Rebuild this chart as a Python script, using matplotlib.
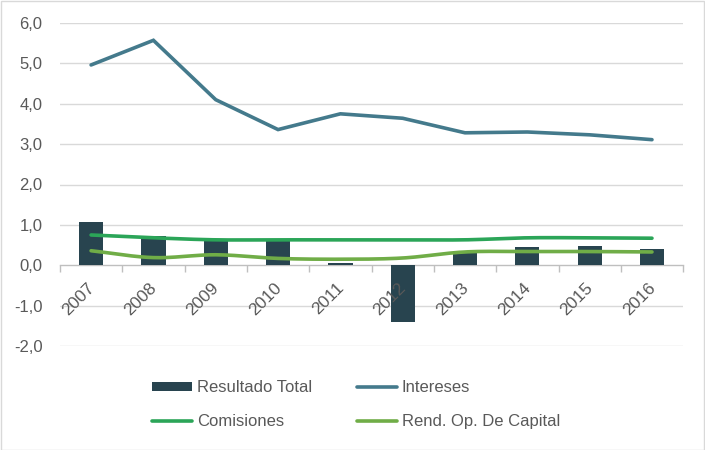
import numpy as np
import matplotlib
matplotlib.use("Agg")
import matplotlib.pyplot as plt
import matplotlib.transforms as mtransforms
from matplotlib.patches import Patch, Rectangle
from matplotlib.lines import Line2D
from matplotlib.ticker import FuncFormatter, FixedLocator

plt.rcParams['font.family'] = ['Liberation Sans', 'DejaVu Sans']

years = ['2007', '2008', '2009', '2010', '2011', '2012', '2013', '2014', '2015', '2016']
resultado_total = [1.07, 0.72, 0.66, 0.62, 0.05, -1.41, 0.36, 0.45, 0.47, 0.40]
intereses = [4.96, 5.57, 4.10, 3.36, 3.75, 3.64, 3.28, 3.30, 3.23, 3.11]
comisiones = [0.75, 0.68, 0.63, 0.63, 0.63, 0.63, 0.63, 0.68, 0.68, 0.67]
rend_capital = [0.36, 0.19, 0.26, 0.17, 0.15, 0.18, 0.33, 0.34, 0.34, 0.33]

C_BAR = '#28444f'
C_INT = '#447a8c'
C_COM = '#2ba558'
C_REND = '#70ad47'
C_TXT = '#595959'
C_GRID = '#d9d9d9'


def smooth(x, y, n=20):
    x = np.asarray(x, float)
    y = np.asarray(y, float)
    px = np.concatenate([[2 * x[0] - x[1]], x, [2 * x[-1] - x[-2]]])
    py = np.concatenate([[2 * y[0] - y[1]], y, [2 * y[-1] - y[-2]]])
    xs, ys = [], []
    t = np.linspace(0, 1, n, endpoint=False)

    def cr(a0, a1, a2, a3):
        return 0.5 * ((2 * a1) + (-a0 + a2) * t + (2 * a0 - 5 * a1 + 4 * a2 - a3) * t ** 2
                      + (-a0 + 3 * a1 - 3 * a2 + a3) * t ** 3)
    for i in range(1, len(px) - 2):
        xs.append(cr(px[i - 1], px[i], px[i + 1], px[i + 2]))
        ys.append(cr(py[i - 1], py[i], py[i + 1], py[i + 2]))
    xs.append([x[-1]])
    ys.append([y[-1]])
    return np.concatenate(xs), np.concatenate(ys)


fig = plt.figure(figsize=(7.05, 4.5), dpi=100)
ax = fig.add_axes([0.085, 0.231, 0.884, 0.718])

x = np.arange(len(years))
yticks = np.arange(-2, 6.01, 1)
for yv in yticks:
    if yv != 0:
        ax.axhline(yv, color=C_GRID, lw=1, zorder=0.5)

ax.bar(x, resultado_total, width=0.39, color=C_BAR, zorder=2)
ax.plot(x, intereses, color=C_INT, lw=2.6, solid_capstyle='round', solid_joinstyle='miter', zorder=3)
sx, sy = smooth(x, comisiones)
ax.plot(sx, sy, color=C_COM, lw=2.6, solid_capstyle='round', zorder=3)
sx, sy = smooth(x, rend_capital)
ax.plot(sx, sy, color=C_REND, lw=2.6, solid_capstyle='round', zorder=3)

ax.set_xlim(-0.5, len(years) - 0.5)
ax.set_ylim(-2, 6)
ax.set_yticks(yticks)
ax.yaxis.set_major_formatter(FuncFormatter(lambda v, p: f"{v:.1f}".replace('.', ',')))
ax.set_axisbelow(False)

for s in ['top', 'right', 'left']:
    ax.spines[s].set_visible(False)
ax.spines['bottom'].set_position(('data', 0))
ax.spines['bottom'].set_color('#bfbfbf')
ax.spines['bottom'].set_linewidth(1)
ax.spines['bottom'].set_zorder(1)

ax.set_xticks(x)
ax.set_xticklabels(years, rotation=45, ha='right', va='center', rotation_mode='anchor',
                   fontsize=12.5, color=C_TXT)
ax.tick_params(axis='x', which='major', length=0, pad=14.5)
ax.xaxis.set_minor_locator(FixedLocator(np.arange(-0.5, len(years), 1)))
ax.tick_params(axis='x', which='minor', length=5, color='#bfbfbf', width=1)
offset = mtransforms.ScaledTranslation(1 / 100, 0, fig.dpi_scale_trans)
for lbl in ax.get_xticklabels():
    lbl.set_transform(lbl.get_transform() + offset)
ax.xaxis.set_zorder(4)

ax.tick_params(axis='y', length=0, labelsize=12, labelcolor=C_TXT, pad=12.5)

h_bar = Patch(facecolor=C_BAR, edgecolor='none')
h_int = Line2D([0], [0], color=C_INT, lw=2.6, solid_capstyle='round')
h_com = Line2D([0], [0], color=C_COM, lw=2.6, solid_capstyle='round')
h_rend = Line2D([0], [0], color=C_REND, lw=2.6, solid_capstyle='round')
handles = [h_bar, h_com, h_int, h_rend]
labels = ['Resultado Total', 'Comisiones', 'Intereses', 'Rend. Op. De Capital']
fig.legend(handles, labels, ncol=2, loc='center', bbox_to_anchor=(0.505, 0.101),
           frameon=False, fontsize=12, labelcolor=C_TXT, handlelength=2.4,
           handleheight=0.45, handletextpad=0.3, columnspacing=2.65, labelspacing=1.15)

fig.patches.append(Rectangle((0.001, 0.001), 0.998, 0.997, transform=fig.transFigure,
                             fill=False, edgecolor='#d9d9d9', lw=1))

fig.savefig('out.png', dpi=100)
